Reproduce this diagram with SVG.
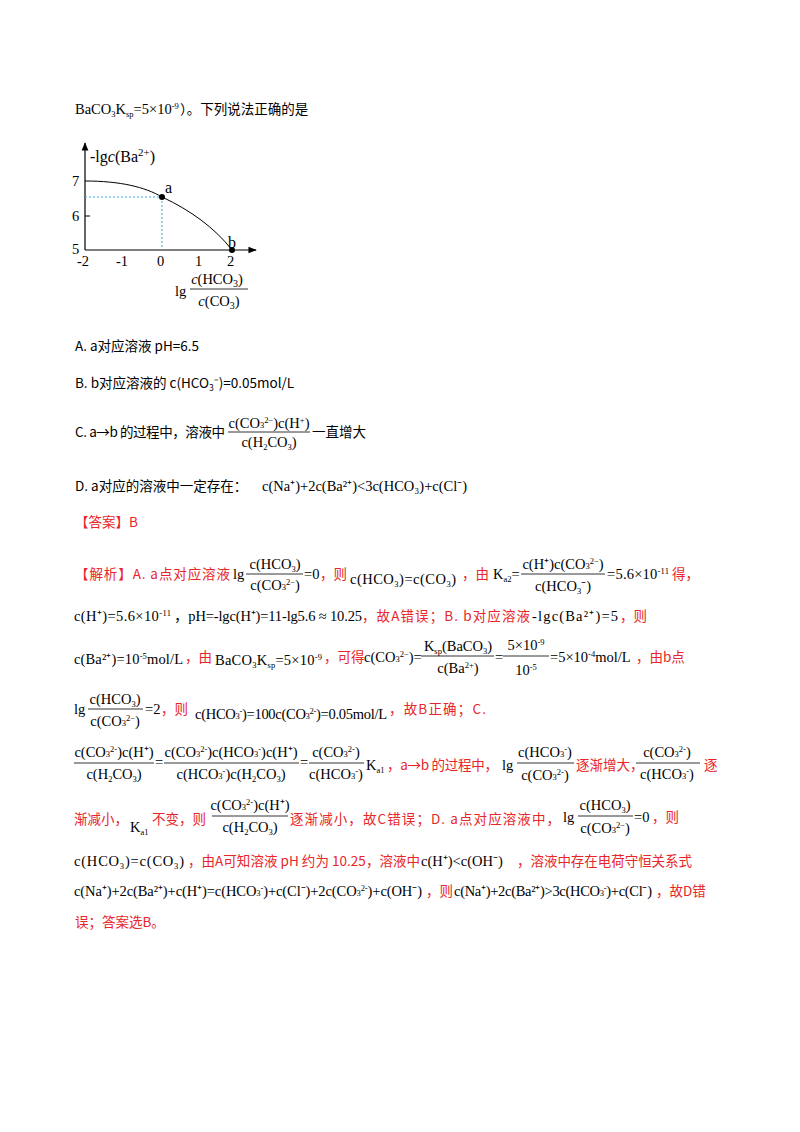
<svg xmlns="http://www.w3.org/2000/svg" width="800" height="1132" viewBox="0 0 800 1132">
<style>
text{font-family:"Liberation Serif","Noto Sans CJK SC",serif;font-size:14.5px;fill:#000}
.r{fill:#e8262a}
.c{font-family:"Noto Sans CJK SC",serif;font-size:13.5px}
.s{font-size:8.5px}
.f{stroke:#000;stroke-width:0.8}
.m{text-anchor:middle}
</style>
<defs><marker id="ar" viewBox="0 0 10 10" refX="9" refY="5" markerWidth="7" markerHeight="7" orient="auto"><path d="M0,1L10,5L0,9z"/></marker></defs>
<rect width="800" height="1132" fill="#fff"/>
<text x="75" y="114">BaCO<tspan class="s" dy="3">3</tspan><tspan dy="-3">K</tspan><tspan class="s" dy="3">sp</tspan><tspan dy="-3">=5×10</tspan><tspan class="s" dy="-5">-9</tspan></text>
<text x="180" y="114" class="c">）。下列说法正确的是</text>
<g id="chart">
<g id="connectors">
<line x1="85" y1="250" x2="85" y2="143" stroke="#000" stroke-width="1.2" marker-end="url(#ar)"/>
<line x1="85" y1="250" x2="256" y2="250" stroke="#000" stroke-width="1.2" marker-end="url(#ar)"/>
<line x1="85" y1="197" x2="162" y2="197" stroke="#3ba6d8" stroke-dasharray="2,2"/>
<line x1="162" y1="197" x2="162" y2="250" stroke="#3ba6d8" stroke-dasharray="2,2"/>
<path d="M85,181 C120,181 145,187 162,197 C190,210 215,228 232,250" fill="none" stroke="#000" stroke-width="1"/>
<line x1="85" y1="216" x2="90" y2="216" stroke="#000"/>
</g>
<circle cx="162" cy="197" r="3"/><circle cx="232" cy="250" r="3"/>
<text x="165" y="193" style="font-size:16px">a</text><text x="228" y="248" style="font-size:16px">b</text>
<text x="90" y="162" style="font-size:16px">-lg<tspan font-style="italic">c</tspan>(Ba<tspan style="font-size:11px" dy="-6">2+</tspan><tspan dy="6">)</tspan></text>
<g style="font-size:16px"><text x="72" y="186">7</text><text x="72" y="221">6</text><text x="72" y="254">5</text>
<text x="77" y="266">-2</text><text x="116" y="266">-1</text><text x="157" y="266">0</text><text x="195" y="266">1</text><text x="227" y="266">2</text>
<text x="175" y="296">lg</text>
<text x="217" y="284" class="m"><tspan font-style="italic">c</tspan>(HCO<tspan style="font-size:10px" dy="3">3</tspan><tspan dy="-3">)</tspan></text>
<line x1="190" y1="289" x2="248" y2="289" class="f"/>
<text x="219" y="306" class="m"><tspan font-style="italic">c</tspan>(CO<tspan style="font-size:10px" dy="3">3</tspan><tspan dy="-3">)</tspan></text></g>
</g>
<text x="75" y="351" class="c">A. a对应溶液 pH=6.5</text>
<text x="75" y="388" class="c">B. b对应溶液的 c(HCO<tspan class="s" dy="3">3</tspan><tspan dy="-3">⁻)=0.05mol/L</tspan></text>
<text x="75" y="437" class="c" textLength="150" lengthAdjust="spacing">C. a→b 的过程中，溶液中</text>
<text x="269" y="428" class="m">c(CO<tspan class="s">3</tspan><tspan class="s" dy="-5">2−</tspan><tspan dy="5">)c(H</tspan><tspan class="s" dy="-5">+</tspan><tspan dy="5">)</tspan></text>
<line x1="228" y1="432" x2="310" y2="432" class="f"/>
<text x="269" y="447" class="m">c(H<tspan class="s" dy="3">2</tspan><tspan dy="-3">CO</tspan><tspan class="s" dy="3">3</tspan><tspan dy="-3">)</tspan></text>
<text x="312" y="437" class="c">一直增大</text>
<text x="75" y="491" class="c">D. a对应的溶液中一定存在：</text>
<text x="262" y="491">c(Na⁺)+2c(Ba²⁺)&lt;3c(HCO₃)+c(Cl⁻)</text>
<text x="75" y="527" class="c r">【答案】B</text>
<g id="analysis">
<text x="75" y="579" class="c r" textLength="155" lengthAdjust="spacing">【解析】A. a点对应溶液</text>
<text x="233" y="579">lg</text>
<text x="275" y="569" class="m">c(HCO<tspan class="s" dy="3">3</tspan><tspan dy="-3">)</tspan></text><line x1="246" y1="574" x2="303" y2="574" class="f"/>
<text x="275" y="590" class="m">c(CO<tspan class="s">3</tspan><tspan class="s" dy="-5">2−</tspan><tspan dy="5">)</tspan></text>
<text x="304" y="579">=0</text><text x="320" y="579" class="c r">，则</text>
<text x="350" y="584" textLength="106" lengthAdjust="spacing">c(HCO<tspan class="s" dy="3">3</tspan><tspan dy="-3">)=c(CO</tspan><tspan class="s" dy="3">3</tspan><tspan dy="-3">)</tspan></text>
<text x="462" y="579" class="c r">，由</text>
<text x="493" y="579">K<tspan class="s" dy="3">a2</tspan><tspan dy="-3">=</tspan></text>
<text x="563" y="569" class="m">c(H⁺)c(CO<tspan class="s">3</tspan><tspan class="s" dy="-5">2−</tspan><tspan dy="5">)</tspan></text><line x1="521" y1="574" x2="605" y2="574" class="f"/>
<text x="563" y="591" class="m">c(HCO<tspan class="s" dy="3">3</tspan><tspan dy="-3">⁻)</tspan></text>
<text x="607" y="579" textLength="62" lengthAdjust="spacing">=5.6×10<tspan class="s" dy="-5">-11</tspan></text><text x="672" y="579" class="c r">得，</text>

<text x="74" y="621" textLength="97" lengthAdjust="spacing">c(H⁺)=5.6×10<tspan class="s" dy="-5">-11</tspan></text>
<text x="174" y="621" textLength="188" lengthAdjust="spacing">，pH=-lgc(H⁺)=11-lg5.6 ≈ 10.25</text>
<text x="362" y="621" class="c r" textLength="168" lengthAdjust="spacing">，故A错误；B. b对应溶液</text>
<text x="532" y="621" textLength="86" lengthAdjust="spacing">-lgc(Ba²⁺)=5</text><text x="620" y="621" class="c r">，则</text>

<text x="74" y="664" textLength="109" lengthAdjust="spacing">c(Ba²⁺)=10<tspan class="s" dy="-5">-5</tspan><tspan dy="5">mol/L</tspan></text>
<text x="185" y="662" class="c r">，由</text>
<text x="215" y="665" textLength="107" lengthAdjust="spacing">BaCO<tspan class="s" dy="3">3</tspan><tspan dy="-3">K</tspan><tspan class="s" dy="3">sp</tspan><tspan dy="-3">=5×10</tspan><tspan class="s" dy="-5">-9</tspan></text>
<text x="324" y="662" class="c r">，可得</text>
<text x="364" y="662">c(CO<tspan class="s">3</tspan><tspan class="s" dy="-5">2−</tspan><tspan dy="5">)=</tspan></text>
<text x="458" y="651" class="m">K<tspan class="s" dy="3">sp</tspan><tspan dy="-3">(BaCO</tspan><tspan class="s" dy="3">3</tspan><tspan dy="-3">)</tspan></text><line x1="421" y1="656" x2="494" y2="656" class="f"/>
<text x="458" y="673" class="m">c(Ba<tspan class="s" dy="-5">2+</tspan><tspan dy="5">)</tspan></text>
<text x="495" y="662">=</text>
<text x="526" y="650" class="m">5×10<tspan class="s" dy="-5">-9</tspan></text><line x1="503" y1="656" x2="549" y2="656" class="f"/>
<text x="526" y="675" class="m">10<tspan class="s" dy="-5">-5</tspan></text>
<text x="550" y="662">=5×10<tspan class="s" dy="-5">-4</tspan><tspan dy="5">mol/L</tspan></text>
<text x="636" y="662" class="c r">，由b点</text>

<text x="74" y="714">lg</text>
<text x="115" y="704" class="m">c(HCO<tspan class="s" dy="3">3</tspan><tspan dy="-3">)</tspan></text><line x1="88" y1="709" x2="143" y2="709" class="f"/>
<text x="115" y="726" class="m">c(CO<tspan class="s">3</tspan><tspan class="s" dy="-5">2−</tspan><tspan dy="5">)</tspan></text>
<text x="145" y="714">=2</text><text x="161" y="714" class="c r">，则</text>
<text x="195" y="719" textLength="192" lengthAdjust="spacing">c(HCO<tspan class="s">3</tspan><tspan class="s" dy="-5">-</tspan><tspan dy="5">)=100c(CO</tspan><tspan class="s">3</tspan><tspan class="s" dy="-5">2-</tspan><tspan dy="5">)=0.05mol/L</tspan></text>
<text x="389" y="714" class="c r" textLength="97" lengthAdjust="spacing">，故B正确；C.</text>

<text x="114" y="757" class="m">c(CO<tspan class="s">3</tspan><tspan class="s" dy="-5">2-</tspan><tspan dy="5">)c(H⁺)</tspan></text><line x1="74" y1="763" x2="154" y2="763" class="f"/>
<text x="114" y="779" class="m">c(H<tspan class="s" dy="3">2</tspan><tspan dy="-3">CO</tspan><tspan class="s" dy="3">3</tspan><tspan dy="-3">)</tspan></text>
<text x="155" y="767">=</text>
<text x="231" y="757" class="m">c(CO<tspan class="s">3</tspan><tspan class="s" dy="-5">2-</tspan><tspan dy="5">)c(HCO</tspan><tspan class="s">3</tspan><tspan class="s" dy="-5">-</tspan><tspan dy="5">)c(H⁺)</tspan></text><line x1="164" y1="763" x2="299" y2="763" class="f"/>
<text x="231" y="779" class="m">c(HCO<tspan class="s">3</tspan><tspan class="s" dy="-5">-</tspan><tspan dy="5">)c(H</tspan><tspan class="s" dy="3">2</tspan><tspan dy="-3">CO</tspan><tspan class="s" dy="3">3</tspan><tspan dy="-3">)</tspan></text>
<text x="300" y="767">=</text>
<text x="336" y="757" class="m">c(CO<tspan class="s">3</tspan><tspan class="s" dy="-5">2-</tspan><tspan dy="5">)</tspan></text><line x1="309" y1="763" x2="364" y2="763" class="f"/>
<text x="336" y="779" class="m">c(HCO<tspan class="s">3</tspan><tspan class="s" dy="-5">-</tspan><tspan dy="5">)</tspan></text>
<text x="366" y="770">K<tspan class="s" dy="3">a1</tspan></text>
<text x="387" y="770" class="c r" textLength="111" lengthAdjust="spacing">，a→b 的过程中，</text>
<text x="502" y="770">lg</text>
<text x="545" y="757" class="m">c(HCO<tspan class="s">3</tspan><tspan class="s" dy="-5">-</tspan><tspan dy="5">)</tspan></text><line x1="517" y1="763" x2="574" y2="763" class="f"/>
<text x="545" y="780" class="m">c(CO<tspan class="s">3</tspan><tspan class="s" dy="-5">2-</tspan><tspan dy="5">)</tspan></text>
<text x="576" y="770" class="c r">逐渐增大，</text>
<text x="667" y="757" class="m">c(CO<tspan class="s">3</tspan><tspan class="s" dy="-5">2-</tspan><tspan dy="5">)</tspan></text><line x1="636" y1="763" x2="700" y2="763" class="f"/>
<text x="667" y="779" class="m">c(HCO<tspan class="s">3</tspan><tspan class="s" dy="-5">-</tspan><tspan dy="5">)</tspan></text>
<text x="704" y="770" class="c r">逐</text>

<text x="74" y="824" class="c r">渐减小，</text>
<text x="130" y="832">K<tspan class="s" dy="3">a1</tspan></text>
<text x="152" y="824" class="c r">不变，则</text>
<text x="250" y="810" class="m">c(CO<tspan class="s">3</tspan><tspan class="s" dy="-5">2-</tspan><tspan dy="5">)c(H⁺)</tspan></text><line x1="212" y1="816" x2="288" y2="816" class="f"/>
<text x="250" y="832" class="m">c(H<tspan class="s" dy="3">2</tspan><tspan dy="-3">CO</tspan><tspan class="s" dy="3">3</tspan><tspan dy="-3">)</tspan></text>
<text x="290" y="824" class="c r" textLength="270" lengthAdjust="spacing">逐渐减小，故C错误；D. a点对应溶液中，</text>
<text x="563" y="822">lg</text>
<text x="605" y="810" class="m">c(HCO<tspan class="s" dy="3">3</tspan><tspan dy="-3">)</tspan></text><line x1="578" y1="816" x2="633" y2="816" class="f"/>
<text x="605" y="833" class="m">c(CO<tspan class="s">3</tspan><tspan class="s" dy="-5">2−</tspan><tspan dy="5">)</tspan></text>
<text x="634" y="822">=0</text><text x="652" y="822" class="c r">，则</text>

<text x="74" y="866" textLength="110" lengthAdjust="spacing">c(HCO<tspan class="s" dy="3">3</tspan><tspan dy="-3">)=c(CO</tspan><tspan class="s" dy="3">3</tspan><tspan dy="-3">)</tspan></text>
<text x="188" y="866" class="c r" textLength="232" lengthAdjust="spacing">，由A可知溶液 pH 约为 10.25，溶液中</text>
<text x="421" y="866">c(H⁺)&lt;c(OH⁻)</text>
<text x="517" y="866" class="c r" textLength="175" lengthAdjust="spacing">，溶液中存在电荷守恒关系式</text>

<text x="74" y="896" textLength="348" lengthAdjust="spacing">c(Na⁺)+2c(Ba²⁺)+c(H⁺)=c(HCO<tspan class="s">3</tspan><tspan class="s" dy="-5">-</tspan><tspan dy="5">)+c(Cl⁻)+2c(CO</tspan><tspan class="s">3</tspan><tspan class="s" dy="-5">2-</tspan><tspan dy="5">)+c(OH⁻)</tspan></text>
<text x="426" y="896" class="c r">，则</text>
<text x="454" y="896" textLength="198" lengthAdjust="spacing">c(Na⁺)+2c(Ba²⁺)&gt;3c(HCO<tspan class="s">3</tspan><tspan class="s" dy="-5">-</tspan><tspan dy="5">)+c(Cl⁻)</tspan></text>
<text x="656" y="896" class="c r">，故D错</text>
<text x="75" y="927" class="c r">误；答案选B。</text>
</g>
</svg>
